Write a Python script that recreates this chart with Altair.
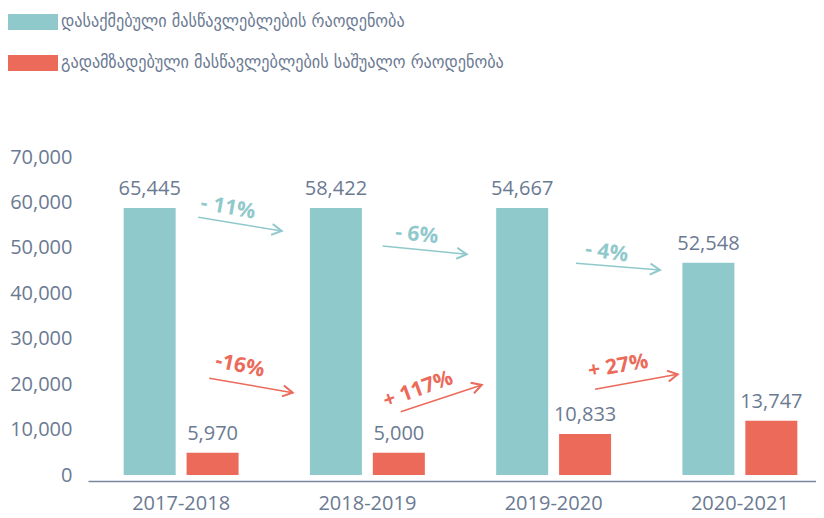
import altair as alt
import pandas as pd

years = ["2017-2018", "2018-2019", "2019-2020", "2020-2021"]
series = [
    "დასაქმებული მასწავლებლების რაოდენობა",
    "გადამზადებული მასწავლებლების საშუალო რაოდენობა",
]

# bar heights as drawn in the picture, and the numbers printed above them
employed_bar = [58800, 58800, 58800, 46730]
employed_label = ["65,445", "58,422", "54,667", "52,548"]
trained_bar = [4900, 4900, 9030, 11950]
trained_label = ["5,970", "5,000", "10,833", "13,747"]

# change annotations (x in category-index units, y in data units)
ann_series = [series[0]] * 3 + [series[1]] * 3
ann_text = ["- 11%", "- 6%", "- 4%", "-16%", "+ 117%", "+ 27%"]
arrow_x_start = [0.092, 1.082, 2.120, 0.151, 1.179, 2.222]
arrow_y_start = [56730, 50410, 46600, 21290, 13930, 18870]
arrow_x_end = [0.540, 1.533, 2.571, 0.599, 1.614, 2.666]
arrow_y_end = [53710, 48580, 45130, 18120, 19810, 22170]
text_x = [0.252, 1.265, 2.285, 0.316, 1.273, 2.347]
text_y = [58770, 52830, 48940, 23990, 18710, 23840]
text_angle = [10, 6, 8, 12, 340, 350]
head_angle = [9, 6, 5, 10, 342, 350]
y_ticks = [0, 10000, 20000, 30000, 40000, 50000, 60000, 70000]

TEAL = "#8fc9cc"
RED = "#ec6a5a"
GRAY = "#6b7a92"

bars_df = pd.DataFrame({
    "year": years * 2,
    "series": [series[0]] * 4 + [series[1]] * 4,
    "value": employed_bar + trained_bar,
    "label": employed_label + trained_label,
})

ann_df = pd.DataFrame({
    "series": ann_series,
    "text": ann_text,
    "xs": arrow_x_start,
    "ys": arrow_y_start,
    "xe": arrow_x_end,
    "ye": arrow_y_end,
    "tx": text_x,
    "ty": text_y,
    "tangle": text_angle,
    "hangle": head_angle,
})

color_scale = alt.Scale(domain=series, range=[TEAL, RED])
y_scale = alt.Scale(domain=[0, 70000], nice=False)
y_axis = alt.Axis(values=y_ticks, format=",d", labelFontSize=20, labelFont="Open Sans",
                  labelColor=GRAY, ticks=False, domain=False, grid=False,
                  labelPadding=16, title=None)
x_band_scale = alt.Scale(range=[0, 745], paddingInner=0, paddingOuter=0)
x_q_scale = alt.Scale(domain=[-0.5, 3.5], range=[0, 745], nice=False, zero=False)
off_scale = alt.Scale(paddingInner=0, paddingOuter=0.48)

bars = alt.Chart(bars_df).mark_bar(width=52).encode(
    x=alt.X("year:N", sort=years, scale=x_band_scale, title=None,
            axis=alt.Axis(labelAngle=0, labelFontSize=20, labelFont="Open Sans",
                          labelColor=GRAY, ticks=False, domainColor="#7a879e",
                          domainWidth=1.5, offset=6, labelPadding=12, grid=False)),
    xOffset=alt.XOffset("series:N", sort=series, scale=off_scale),
    y=alt.Y("value:Q", scale=y_scale, title=None, axis=y_axis),
    color=alt.Color("series:N", scale=color_scale,
                    legend=alt.Legend(title=None, orient="none", legendX=-80, legendY=-160,
                                      symbolType="M-1,-0.32H1V0.32H-1Z", symbolSize=2500,
                                      labelFontSize=18, labelFont="DejaVu Sans Condensed, DejaVu Sans",
                                      labelColor=GRAY, rowPadding=7, labelOffset=3,
                                      symbolStrokeWidth=0, labelLimit=0, symbolOpacity=1)),
)

labels = alt.Chart(bars_df).mark_text(font="Open Sans", fontSize=20, color=GRAY,
                                      baseline="middle", dy=-19).encode(
    x=alt.X("year:N", sort=years, scale=x_band_scale, axis=None),
    xOffset=alt.XOffset("series:N", sort=series, scale=off_scale),
    y=alt.Y("value:Q", scale=y_scale, title=None, axis=y_axis),
    text="label:N",
)

rules = alt.Chart(ann_df).mark_rule(strokeWidth=1.5).encode(
    x=alt.X("xs:Q", scale=x_q_scale, axis=None),
    x2="xe:Q",
    y=alt.Y("ys:Q", scale=y_scale, title=None, axis=y_axis),
    y2="ye:Q",
    color=alt.Color("series:N", scale=color_scale, legend=None),
)

heads = alt.Chart(ann_df).mark_point(shape="M-1.8,-1L0,0L-1.8,1", size=121, filled=False,
                                     strokeWidth=2, opacity=1).encode(
    x=alt.X("xe:Q", scale=x_q_scale, axis=None),
    y=alt.Y("ye:Q", scale=y_scale, title=None, axis=y_axis),
    angle=alt.Angle("hangle:Q", scale=None),
    color=alt.Color("series:N", scale=color_scale, legend=None),
)

texts = alt.Chart(ann_df).mark_text(font="Open Sans", fontSize=21, fontWeight="bold",
                                    baseline="middle", align="center").encode(
    x=alt.X("tx:Q", scale=x_q_scale, axis=None),
    y=alt.Y("ty:Q", scale=y_scale, title=None, axis=y_axis),
    text="text:N",
    angle=alt.Angle("tangle:Q", scale=None),
    color=alt.Color("series:N", scale=color_scale, legend=None),
)

chart = alt.layer(bars, labels, rules, heads, texts).resolve_scale(
    x="independent"
).properties(
    width=728, height=318, autosize="none",
    padding={"left": 80, "top": 149, "right": 0, "bottom": 40},
).configure_view(stroke=None)

chart.save("out.html", embed_options={"renderer": "svg", "actions": False})
